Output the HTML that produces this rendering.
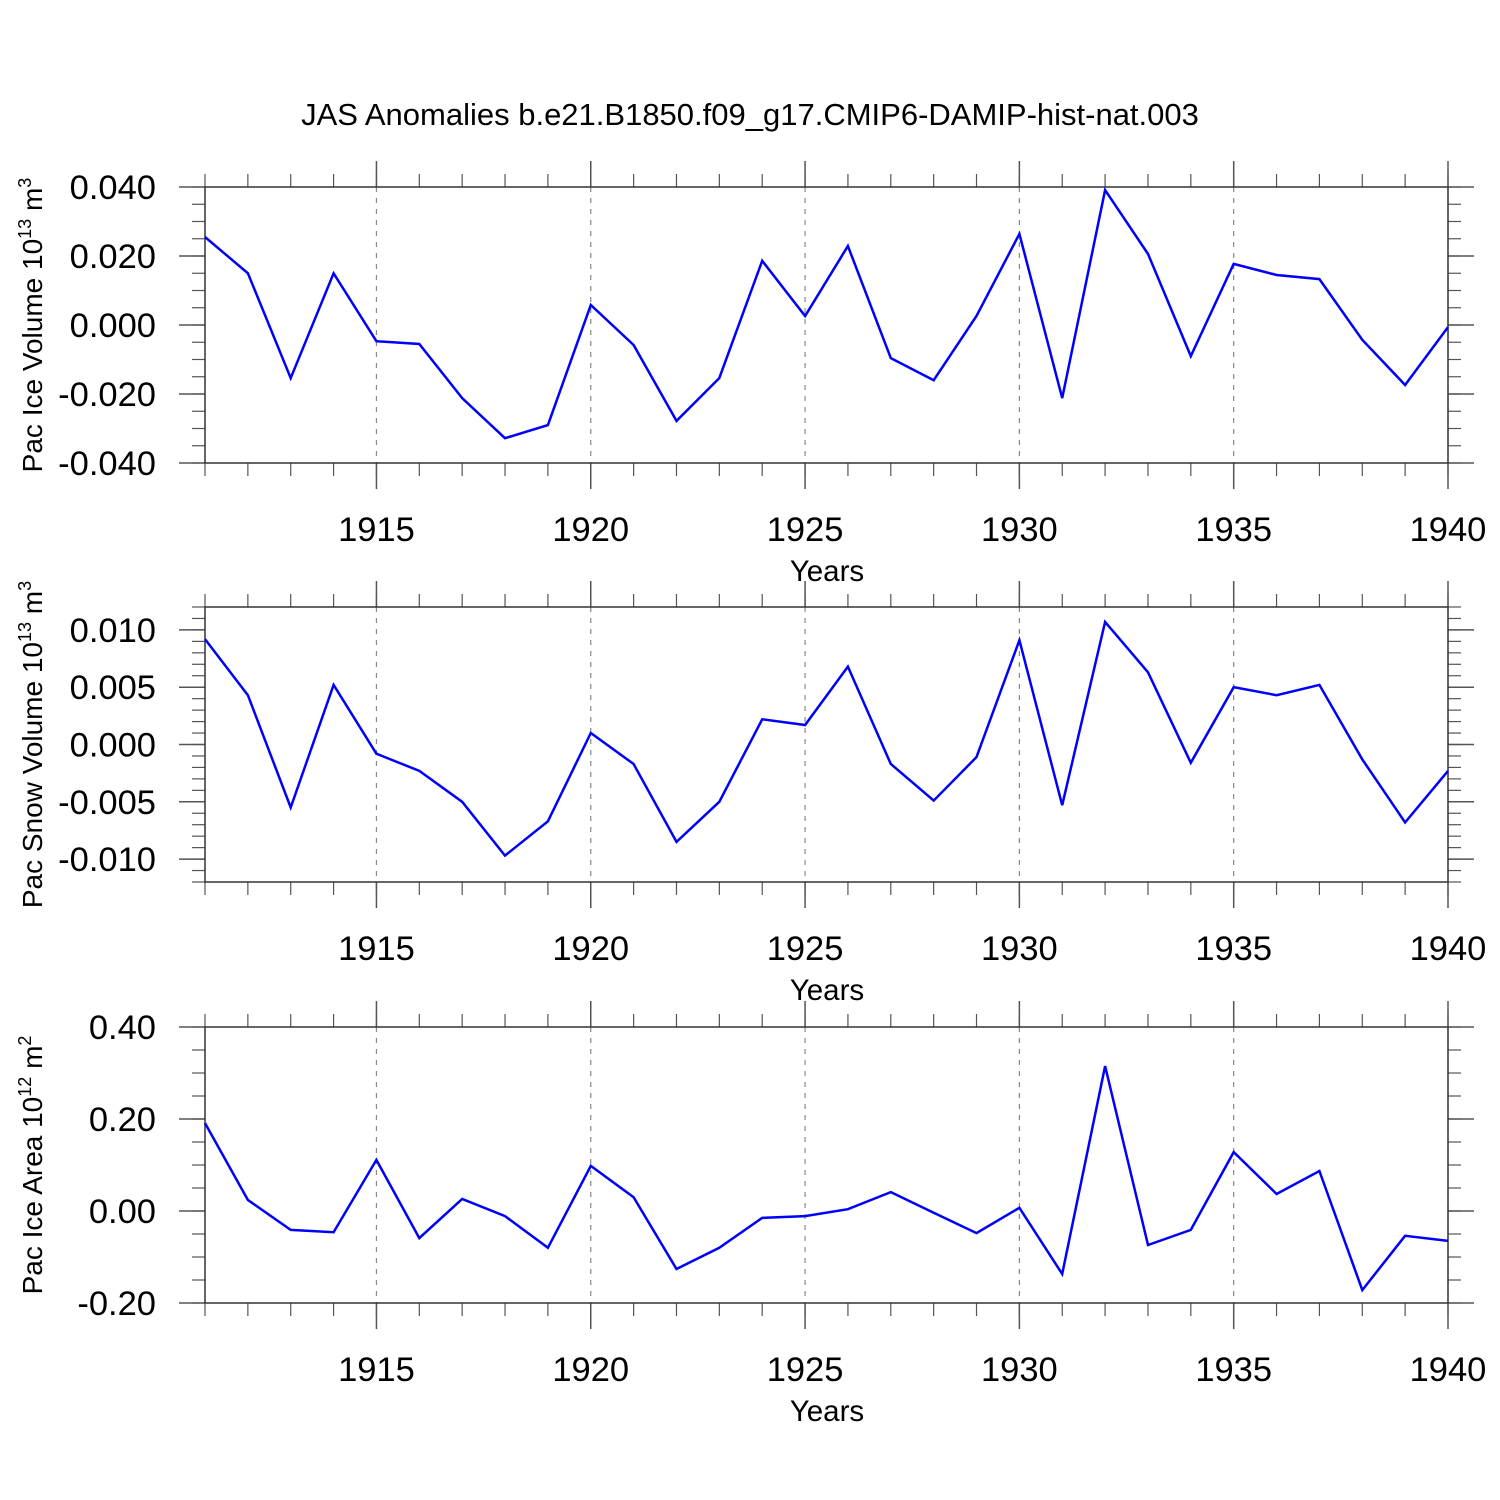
<!DOCTYPE html>
<html><head><meta charset="utf-8"><style>
body{margin:0;background:#fff}
svg{display:block}
text{font-family:"Liberation Sans",sans-serif;fill:#000}
</style></head><body>
<svg id="chart" width="1500" height="1500" xmlns="http://www.w3.org/2000/svg">
<text x="750" y="125" font-size="31" text-anchor="middle">JAS Anomalies b.e21.B1850.f09_g17.CMIP6-DAMIP-hist-nat.003</text>
</svg>
<script>
const years=[1911,1912,1913,1914,1915,1916,1917,1918,1919,1920,1921,1922,1923,1924,1925,1926,1927,1928,1929,1930,1931,1932,1933,1934,1935,1936,1937,1938,1939,1940];
const iceVolume=[0.0255,0.015,-0.0154,0.015,-0.0047,-0.0055,-0.0212,-0.0328,-0.029,0.0058,-0.0058,-0.0278,-0.0154,0.0186,0.0026,0.0229,-0.0096,-0.016,0.0026,0.0264,-0.0212,0.0391,0.0206,-0.009,0.0177,0.0145,0.0133,-0.0043,-0.0174,-0.0006];
const snowVolume=[0.0092,0.0043,-0.0055,0.0052,-0.0008,-0.0023,-0.005,-0.0097,-0.0067,0.001,-0.0017,-0.0085,-0.005,0.0022,0.0017,0.0068,-0.0017,-0.0049,-0.0011,0.0091,-0.0053,0.0107,0.0063,-0.0016,0.005,0.0043,0.0052,-0.0013,-0.0068,-0.0023];
const iceArea=[0.191,0.024,-0.041,-0.046,0.111,-0.059,0.026,-0.011,-0.080,0.098,0.030,-0.126,-0.080,-0.015,-0.011,0.004,0.041,-0.004,-0.048,0.007,-0.137,0.315,-0.074,-0.041,0.128,0.037,0.087,-0.172,-0.054,-0.065];
const xTicks=[1915,1920,1925,1930,1935,1940];
const iceVolTicks=[-0.04,-0.02,0,0.02,0.04];
const iceVolLabels=["-0.040","-0.020","0.000","0.020","0.040"];
const snowTicks=[-0.01,-0.005,0,0.005,0.01];
const snowLabels=["-0.010","-0.005","0.000","0.005","0.010"];
const areaTicks=[-0.2,0,0.2,0.4];
const areaLabels=["-0.20","0.00","0.20","0.40"];

const NS="http://www.w3.org/2000/svg";
const svg=document.getElementById('chart');
function mk(tag,attrs,parent){const e=document.createElementNS(NS,tag);for(const k in attrs)e.setAttribute(k,attrs[k]);(parent||svg).appendChild(e);return e;}
const X0=205,X1=1448,Y_MIN=1911,Y_MAX=1940;
const xs=v=>X0+(v-Y_MIN)/(Y_MAX-Y_MIN)*(X1-X0);

function panel(name,top,bot,vmin,vmax,minorStep,ticks,labels,data,titleParts){
  const g=mk('g',{});
  
  
  const ys=v=>bot-(v-vmin)/(vmax-vmin)*(bot-top);
  const tc='#555';
  xTicks.forEach(t=>{const l=mk('line',{x1:xs(t),x2:xs(t),y1:top,y2:bot,stroke:'#888','stroke-width':1.2,'stroke-dasharray':'5,6'},g);
    });
  years.forEach(y=>{const x=xs(y);
    mk('line',{x1:x,x2:x,y1:top,y2:top-13,stroke:tc,'stroke-width':1.2},g);
    mk('line',{x1:x,x2:x,y1:bot,y2:bot+13,stroke:tc,'stroke-width':1.2},g);});
  xTicks.forEach(t=>{const x=xs(t);
    mk('line',{x1:x,x2:x,y1:top,y2:top-26,stroke:tc,'stroke-width':1.5},g);
    mk('line',{x1:x,x2:x,y1:bot,y2:bot+26,stroke:tc,'stroke-width':1.5},g);
    const tx=mk('text',{x:x,y:bot+78,'font-size':34.5,'text-anchor':'middle'},g);tx.textContent=t;
    });
  const n=Math.round((vmax-vmin)/minorStep);
  for(let i=0;i<=n;i++){const y=ys(vmin+i*minorStep);
    mk('line',{x1:X0,x2:X0-13,y1:y,y2:y,stroke:tc,'stroke-width':1.2},g);
    mk('line',{x1:X1,x2:X1+13,y1:y,y2:y,stroke:tc,'stroke-width':1.2},g);}
  ticks.forEach((t,i)=>{const y=ys(t);
    mk('line',{x1:X0,x2:X0-26,y1:y,y2:y,stroke:tc,'stroke-width':1.5},g);
    mk('line',{x1:X1,x2:X1+26,y1:y,y2:y,stroke:tc,'stroke-width':1.5},g);
    const tx=mk('text',{x:156,y:y+12,'font-size':34.5,'text-anchor':'end'},g);tx.textContent=labels[i];
    });
  const fr=mk('rect',{x:X0,y:top,width:X1-X0,height:bot-top,fill:'none',stroke:'#333','stroke-width':1.5},g);
  
  const pts=data.map((v,i)=>xs(years[i]).toFixed(1)+','+ys(v).toFixed(1)).join(' ');
  const pl=mk('polyline',{points:pts,fill:'none',stroke:'#0000ff','stroke-width':2.5,'stroke-linejoin':'miter'},g);
  
  const xl=mk('text',{x:827,y:bot+118,'font-size':29.5,'text-anchor':'middle'},g);xl.textContent='Years';
  
  const cy=(top+bot)/2;
  const yt=mk('text',{x:0,y:0,'font-size':28,'text-anchor':'middle',transform:`translate(42,${cy}) rotate(-90)`},g);
  
  const s1=mk('tspan',{},yt);s1.textContent=titleParts[0];
  const s2=mk('tspan',{dy:-11,'font-size':18},yt);s2.textContent=titleParts[1];
  const s3=mk('tspan',{dy:11},yt);s3.textContent=' m';
  const s4=mk('tspan',{dy:-11,'font-size':18},yt);s4.textContent=titleParts[2];
}
panel('ice-volume',187,463,-0.04,0.04,0.005,iceVolTicks,iceVolLabels,iceVolume,['Pac Ice Volume 10','13','3']);
panel('snow-volume',607,882,-0.012,0.012,0.001,snowTicks,snowLabels,snowVolume,['Pac Snow Volume 10','13','3']);
panel('ice-area',1027,1303,-0.2,0.4,0.05,areaTicks,areaLabels,iceArea,['Pac Ice Area 10','12','2']);
</script>
</body></html>
